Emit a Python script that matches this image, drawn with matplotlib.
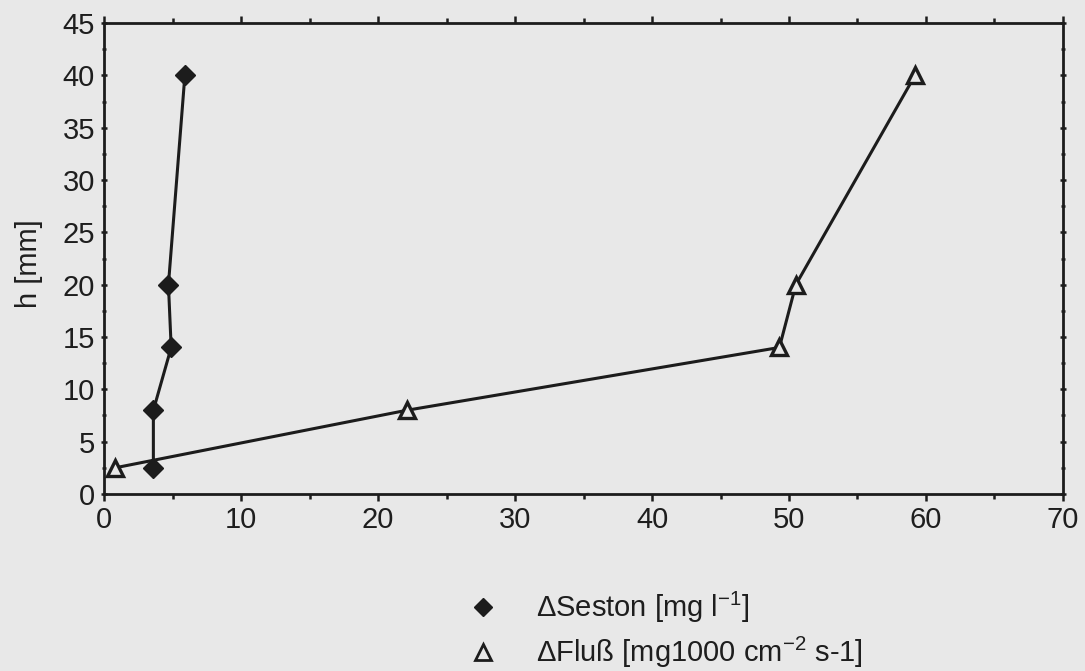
import matplotlib
matplotlib.use("Agg")
import matplotlib.pyplot as plt
from matplotlib.lines import Line2D
from matplotlib.ticker import MultipleLocator

# Depth profile values
heights = [40, 20, 14, 8, 2.5]
seston = [5.9, 4.7, 4.9, 3.6, 3.6]
fluss = [59.2, 50.5, 49.3, 22.1, 0.8]

label_seston = "ΔSeston [mg l$^{-1}$]"
label_fluss = "ΔFluß [mg1000 cm$^{-2}$ s-1]"
x_ticks = [0, 10, 20, 30, 40, 50, 60, 70]
y_ticks = [0, 5, 10, 15, 20, 25, 30, 35, 40, 45]

plt.rcParams["font.family"] = ["Liberation Sans", "DejaVu Sans"]
plt.rcParams["mathtext.default"] = "regular"

bg = "#e8e8e8"
ink = "#1c1c1c"

fig = plt.figure(figsize=(10.85, 6.71), dpi=100, facecolor=bg)
ax = fig.add_axes([0.0959, 0.2638, 0.8838, 0.7019], facecolor=bg)

ax.plot(seston, heights, color=ink, lw=2.2, marker="D", ms=10,
        mfc=ink, mec=ink, clip_on=False, zorder=3)
ax.plot(fluss, heights, color=ink, lw=2.2, marker="^", ms=12,
        mfc=bg, mec=ink, mew=2.4, clip_on=False, zorder=3)

ax.set_xlim(0, 70)
ax.set_ylim(0, 45)
ax.set_xticks(x_ticks)
ax.set_yticks(y_ticks)
ax.xaxis.set_minor_locator(MultipleLocator(5))
ax.yaxis.set_minor_locator(MultipleLocator(2.5))

for s in ax.spines.values():
    s.set_color(ink)
    s.set_linewidth(2.0)

ax.tick_params(which="both", colors=ink, labelcolor="#1e1e1e", labelsize=21,
               width=1.8, top=True, right=True, direction="out")
ax.tick_params(which="major", length=5, pad=4)
ax.tick_params(which="minor", length=3.5)
ax.tick_params(axis="y", which="both", right=True, direction="inout")
ax.tick_params(axis="x", which="both", top=True)

ax.set_ylabel("h [mm]", fontsize=21, color="#1e1e1e")
ax.yaxis.set_label_coords(-0.064, 0.49)

handles = [
    Line2D([], [], ls="none", marker="D", ms=9, mfc=ink, mec=ink),
    Line2D([], [], ls="none", marker="^", ms=11, mfc=bg, mec=ink, mew=2.0),
]
fig.legend(handles, [label_seston, label_fluss], loc="upper left",
           bbox_to_anchor=(0.432, 0.121), frameon=False, fontsize=21,
           handlelength=1.0, handletextpad=1.3, labelspacing=0.35,
           borderpad=0, borderaxespad=0, labelcolor="#1e1e1e")

fig.savefig("out.png", dpi=100, facecolor=bg)
